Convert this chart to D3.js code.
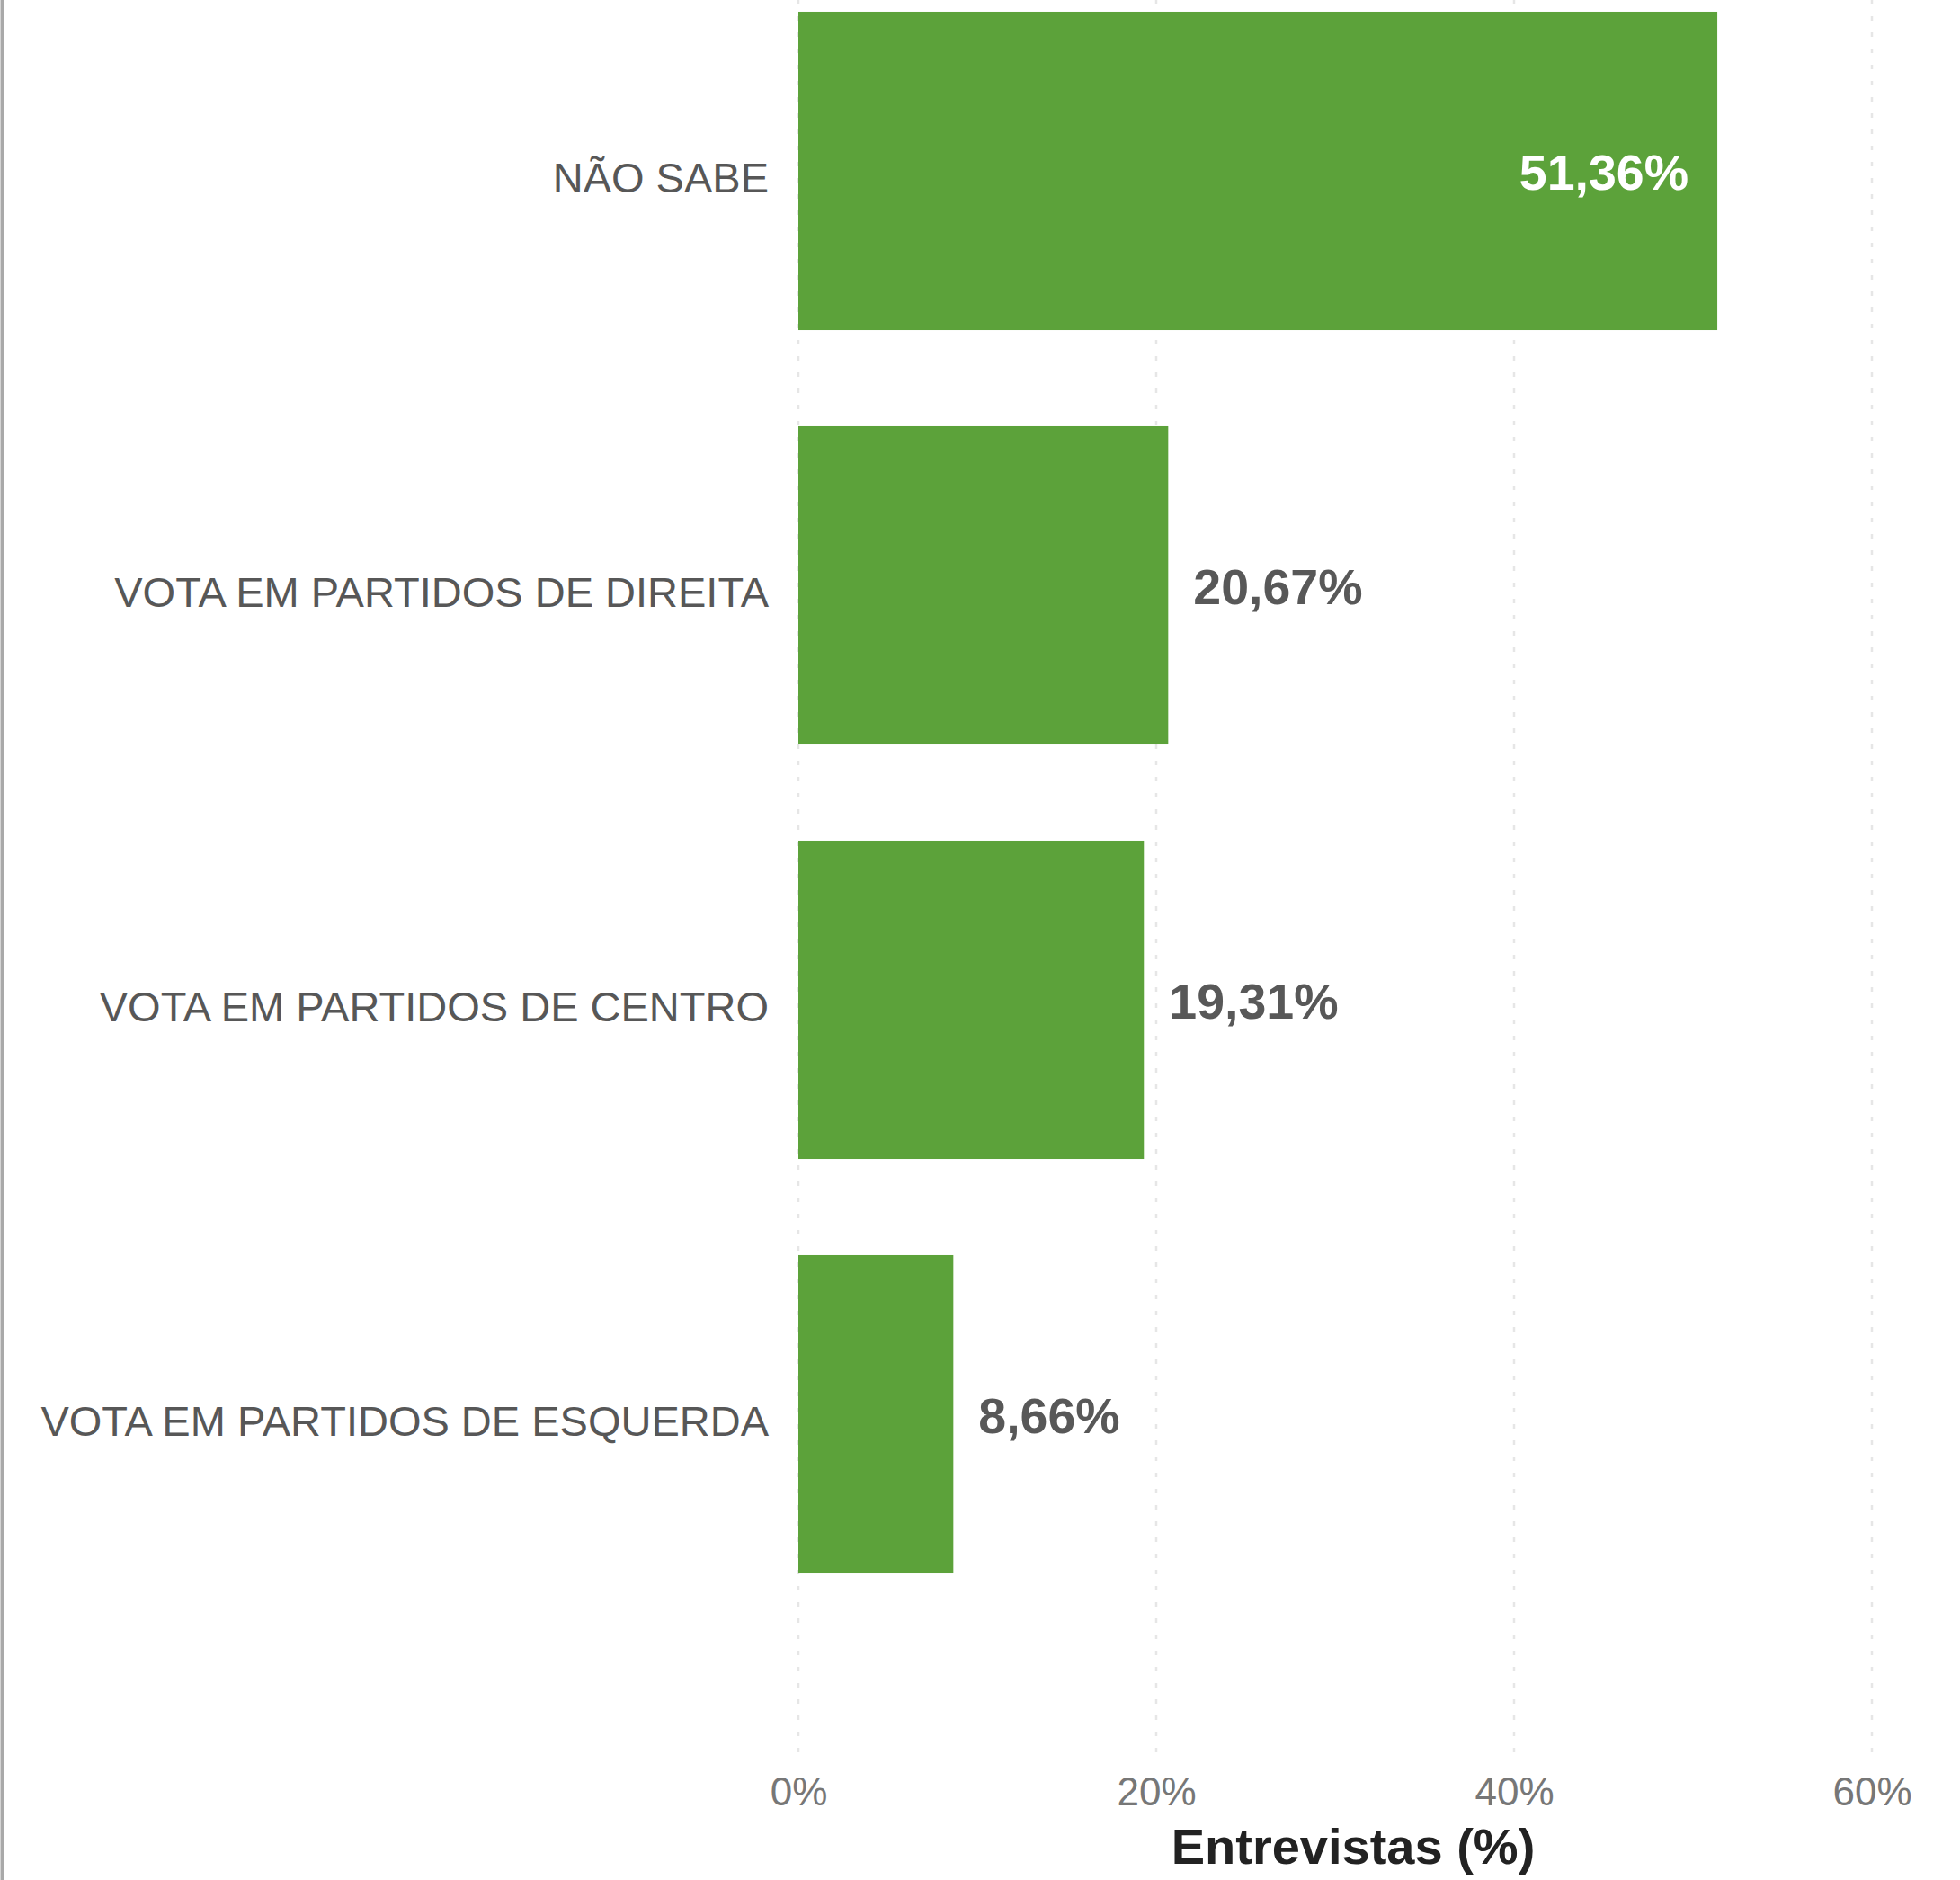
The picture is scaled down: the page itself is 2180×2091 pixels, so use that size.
<!DOCTYPE html>
<html>
<head>
<meta charset="utf-8">
<script src="https://cdn.jsdelivr.net/npm/d3@7"></script>
<style>
  html, body { margin: 0; padding: 0; background: #ffffff; }
  svg { display: block; }
  text { font-family: "Liberation Sans", Arial, Helvetica, sans-serif; }
</style>
</head>
<body>
<div id="chart"></div>
<script>
const categories = [
  "NÃO SABE",
  "VOTA EM PARTIDOS DE DIREITA",
  "VOTA EM PARTIDOS DE CENTRO",
  "VOTA EM PARTIDOS DE ESQUERDA"
];
const values = [51.36, 20.67, 19.31, 8.66];
const valueLabels = ["51,36%", "20,67%", "19,31%", "8,66%"];
const xTickValues = [0, 20, 40, 60];
const xTickLabels = ["0%", "20%", "40%", "60%"];
const axisTitle = "Entrevistas (%)";

const W = 2180, H = 2091;
const svg = d3.select("#chart").append("svg")
  .attr("width", W).attr("height", H);

const x = d3.scaleLinear().domain([0, 60]).range([888, 2082]);
const y = d3.scaleBand().domain(categories)
  .range([-40.5, 1803.5]).paddingInner(0.232).paddingOuter(0.116);

const data = categories.map((c, i) => ({ cat: c, value: values[i], label: valueLabels[i] }));

// left border line
svg.append("line")
  .attr("x1", 2.5).attr("x2", 2.5).attr("y1", 0).attr("y2", H)
  .attr("stroke", "#a9a9a9").attr("stroke-width", 4);

// gridlines
svg.append("g").selectAll("line")
  .data(xTickValues).join("line")
  .attr("x1", d => x(d)).attr("x2", d => x(d))
  .attr("y1", 0).attr("y2", 1950)
  .attr("stroke", "#e6e6e6").attr("stroke-width", 2.5)
  .attr("stroke-dasharray", "5,13");

// bars
svg.append("g").selectAll("rect")
  .data(data).join("rect")
  .attr("x", x(0))
  .attr("y", d => y(d.cat))
  .attr("width", d => x(d.value) - x(0))
  .attr("height", y.bandwidth())
  .attr("fill", "#5ca23a");

// value labels
svg.append("g").selectAll("text")
  .data(data).join("text")
  .attr("x", d => d.value > 40 ? x(d.value) - 32 : x(d.value) + 28)
  .attr("y", d => y(d.cat) + y.bandwidth() / 2)
  .attr("dy", "0.38em")
  .attr("text-anchor", d => d.value > 40 ? "end" : "start")
  .attr("fill", d => d.value > 40 ? "#ffffff" : "#585858")
  .attr("font-weight", "bold")
  .attr("font-size", 55.5)
  .text(d => d.label);

// category axis
const yAxis = d3.axisLeft(y).tickSize(0).tickPadding(33);
const gy = svg.append("g").attr("transform", `translate(${x(0)},0)`).call(yAxis);
gy.select(".domain").remove();
gy.selectAll("text")
  .attr("font-size", 47)
  .attr("font-family", "\"Liberation Sans\", Arial, sans-serif")
  .attr("fill", "#575757")
  .attr("dy", "0.5em");

// x axis tick labels
const xAxis = d3.axisBottom(x).tickValues(xTickValues)
  .tickFormat((d, i) => xTickLabels[i]).tickSize(0).tickPadding(27);
const gx = svg.append("g").attr("transform", "translate(0,1950)").call(xAxis);
gx.select(".domain").remove();
gx.selectAll("text")
  .attr("font-size", 44)
  .attr("font-family", "\"Liberation Sans\", Arial, sans-serif")
  .attr("fill", "#777777");

// axis title
svg.append("text")
  .attr("x", 1505).attr("y", 2073)
  .attr("text-anchor", "middle")
  .attr("font-size", 56)
  .attr("font-weight", "bold")
  .attr("fill", "#222222")
  .text(axisTitle);
</script>
</body>
</html>
